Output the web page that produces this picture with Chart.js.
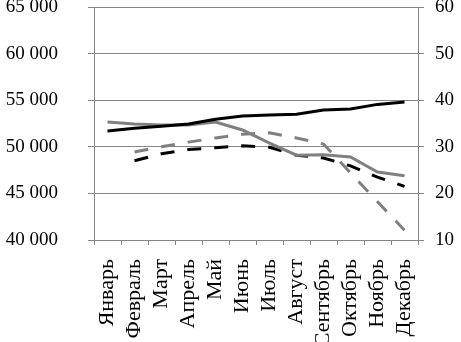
<!DOCTYPE html>
<html>
<head>
<meta charset="utf-8">
<script src="https://cdn.jsdelivr.net/npm/chart.js@4"></script>
<style>
  body { margin: 0; background: #fff; }
</style>
</head>
<body>
<canvas id="chart" width="461" height="342"></canvas>
<script>
const months = ['Январь', 'Февраль', 'Март', 'Апрель', 'Май', 'Июнь', 'Июль', 'Август', 'Сентябрь', 'Октябрь', 'Ноябрь', 'Декабрь'];

// left axis (solid lines)
const blackSolid = [51700, 52000, 52200, 52450, 52950, 53300, 53400, 53500, 53950, 54050, 54550, 54800];
const graySolid = [52650, 52450, 52350, 52350, 52650, 51800, 50400, 49100, 49150, 48900, 47300, 46900];

// right axis (dashed lines)
const blackDashed = [null, 27.0, 28.5, 29.4, 29.8, 30.2, 29.9, 28.2, 27.6, 25.9, 23.5, 21.5];
const grayDashed = [null, 28.9, 30.0, 31.0, 31.9, 32.7, 33.0, 31.9, 30.6, 24.4, 18.2, 12.1];

const leftMin = 40000, leftMax = 65000, leftStep = 5000;
const rightMin = 10, rightMax = 60, rightStep = 10;

const gridGray = '#868686';
const lineGray = '#808080';
const family = '"Liberation Serif", "Times New Roman", serif';
const font = { family: family, size: 19 };
const xFont = { family: family, size: 22 };

function fmt(v) {
  return String(v).replace(/\B(?=(\d{3})+(?!\d))/g, ' ');
}

function line(data, color, dashed, axis) {
  return {
    data: data,
    borderColor: color,
    backgroundColor: color,
    borderWidth: 3,
    borderDash: dashed ? [14, 13] : [],
    pointRadius: 0,
    tension: 0,
    fill: false,
    yAxisID: axis,
    spanGaps: false
  };
}

// tick padding would otherwise be added to the top of the plot
function fixY(width) {
  return s => { s.width = width; s.paddingTop = 0; s.paddingBottom = 0; };
}

new Chart(document.getElementById('chart'), {
  type: 'line',
  data: {
    labels: months,
    datasets: [
      line(blackSolid, '#000', false, 'y'),
      line(graySolid, lineGray, false, 'y'),
      line(blackDashed, '#000', true, 'y1'),
      line(grayDashed, lineGray, true, 'y1')
    ]
  },
  options: {
    responsive: false,
    animation: false,
    layout: { padding: { top: 7, left: 0, right: 0, bottom: 0 } },
    plugins: { legend: { display: false }, tooltip: { enabled: false } },
    scales: {
      x: {
        offset: true,
        grid: { offset: true, drawOnChartArea: false, color: gridGray, tickLength: 5 },
        border: { color: gridGray },
        ticks: { color: '#000', font: xFont, minRotation: 90, maxRotation: 90, padding: 14, autoSkip: false },
        afterFit: s => { s.height = 102; s.paddingLeft = 0; s.paddingRight = 0; }
      },
      y: {
        position: 'left',
        min: leftMin, max: leftMax,
        ticks: { stepSize: leftStep, color: '#000', font: font, padding: 30, callback: v => fmt(v) },
        grid: { color: gridGray, tickLength: 6 },
        border: { color: gridGray },
        afterFit: fixY(94)
      },
      y1: {
        position: 'right',
        min: rightMin, max: rightMax,
        ticks: { stepSize: rightStep, color: '#000', font: font, padding: 11 },
        grid: { drawOnChartArea: false, color: gridGray, tickLength: 6 },
        border: { color: gridGray },
        afterFit: fixY(43)
      }
    }
  }
});
</script>
</body>
</html>
